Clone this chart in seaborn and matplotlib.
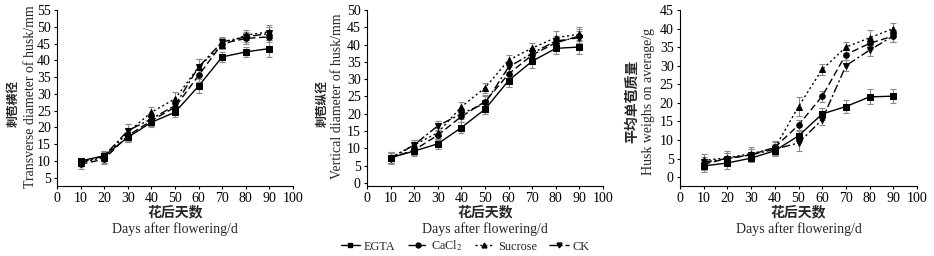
import numpy as np
import pandas as pd
import matplotlib
matplotlib.use("Agg")
import matplotlib.pyplot as plt
from matplotlib.lines import Line2D
import seaborn as sns

days = [10, 20, 30, 40, 50, 60, 70, 80, 90]
treatments = ["EGTA", "CaCl$_2$", "Sucrose", "CK"]

# Panel 1: transverse diameter of husk (mm)
trans_egta = [10.0, 11.5, 17.0, 21.5, 24.5, 32.3, 41.0, 42.5, 43.5]
trans_cacl2 = [9.0, 10.5, 17.5, 22.0, 26.0, 35.5, 45.0, 46.5, 47.0]
trans_sucrose = [9.5, 11.0, 18.5, 24.5, 28.5, 38.0, 44.5, 47.5, 48.5]
trans_ck = [9.5, 11.5, 19.0, 22.5, 26.5, 38.0, 45.5, 47.0, 48.0]
trans_err_egta = [1.0, 1.5, 1.5, 1.5, 1.5, 2.0, 1.5, 1.5, 2.5]
trans_err_cacl2 = [1.5, 1.5, 2.0, 1.5, 1.5, 2.0, 1.5, 1.5, 1.5]
trans_err_sucrose = [1.0, 1.5, 2.5, 1.5, 2.0, 2.5, 1.0, 1.5, 2.0]
trans_err_ck = [1.0, 1.5, 2.0, 1.5, 1.5, 2.5, 1.5, 1.5, 2.0]

# Panel 2: vertical diameter of husk (mm)
vert_egta = [7.3, 9.2, 11.3, 16.0, 21.3, 29.6, 35.2, 38.9, 39.3]
vert_cacl2 = [7.2, 9.5, 13.8, 19.2, 23.5, 31.5, 37.0, 40.5, 42.5]
vert_sucrose = [7.3, 11.0, 14.5, 22.0, 27.5, 35.5, 39.0, 42.0, 43.0]
vert_ck = [7.0, 11.0, 16.5, 20.0, 23.0, 33.5, 37.5, 41.0, 42.0]
vert_err_egta = [1.5, 1.5, 1.5, 1.5, 1.5, 2.0, 2.0, 1.5, 2.0]
vert_err_cacl2 = [1.5, 1.5, 1.5, 1.5, 2.0, 2.0, 1.5, 1.5, 2.0]
vert_err_sucrose = [1.5, 1.5, 1.5, 1.5, 1.5, 1.5, 1.5, 2.0, 2.0]
vert_err_ck = [1.5, 1.5, 1.5, 1.5, 2.0, 1.5, 1.5, 1.5, 2.0]

# Panel 3: average husk weight (g)
wt_egta = [3.0, 3.8, 5.1, 7.1, 11.1, 17.0, 19.0, 21.6, 21.8]
wt_cacl2 = [3.5, 5.0, 6.0, 8.0, 14.0, 21.8, 33.0, 36.0, 38.0]
wt_sucrose = [4.5, 5.2, 6.3, 7.8, 19.0, 29.0, 35.0, 37.5, 40.0]
wt_ck = [4.0, 5.0, 6.0, 7.5, 9.2, 15.5, 30.0, 34.2, 38.0]
wt_err_egta = [1.5, 1.5, 1.0, 1.5, 1.5, 1.5, 1.8, 2.0, 1.8]
wt_err_cacl2 = [1.5, 1.5, 1.5, 1.5, 1.5, 1.5, 1.5, 1.5, 1.5]
wt_err_sucrose = [1.8, 1.8, 1.8, 1.8, 2.5, 1.5, 1.5, 2.2, 1.5]
wt_err_ck = [1.5, 1.5, 1.5, 1.5, 2.2, 1.5, 1.5, 1.5, 1.5]

ylabels_cn = ["刺苞横径", "刺苞纵径", "平均单苞质量"]
ylabels_en = ["Transverse diameter of husk/mm", "Vertical diameter of husk/mm",
              "Husk weighs on average/g"]
xlabel_cn = "花后天数"
xlabel_en = "Days after flowering/d"

panels = [
    dict(series=[trans_egta, trans_cacl2, trans_sucrose, trans_ck],
         errs=[trans_err_egta, trans_err_cacl2, trans_err_sucrose, trans_err_ck],
         ylim=(2.5, 55), yticks=list(range(5, 56, 5)),
         cn_pos=(-0.186, 0.47), cn_size=8.5, en_x=-0.114, en_y=0.506),
    dict(series=[vert_egta, vert_cacl2, vert_sucrose, vert_ck],
         errs=[vert_err_egta, vert_err_cacl2, vert_err_sucrose, vert_err_ck],
         ylim=(-0.9, 50), yticks=list(range(0, 51, 5)),
         cn_pos=(-0.19, 0.466), cn_size=8.5, en_x=-0.123, en_y=0.51),
    dict(series=[wt_egta, wt_cacl2, wt_sucrose, wt_ck],
         errs=[wt_err_egta, wt_err_cacl2, wt_err_sucrose, wt_err_ck],
         ylim=(-2.4, 45), yticks=list(range(0, 46, 5)),
         cn_pos=(-0.20, 0.48), cn_size=10, en_x=-0.135, en_y=0.48),
]

sns.set_style("ticks")
plt.rcParams["font.family"] = ["Liberation Serif", "Noto Sans CJK SC"]
plt.rcParams["mathtext.fontset"] = "stix"

styles = [
    dict(marker="s", ls="-"),
    dict(marker="o", ls=(0, (5, 2.5))),
    dict(marker="^", ls=(0, (1.5, 2))),
    dict(marker="v", ls=(0, (6, 2, 1.5, 2))),
]

fig = plt.figure(figsize=(9.34, 2.56), dpi=100)
lefts = [57, 367, 680]
rights = [293, 603, 917]
W, H = 934, 256
top_px, bot_px = 10, 186

for i, p in enumerate(panels):
    ax = fig.add_axes([lefts[i] / W, 1 - bot_px / H,
                       (rights[i] - lefts[i]) / W, (bot_px - top_px) / H])
    for j, (vals, errs) in enumerate(zip(p["series"], p["errs"])):
        df = pd.DataFrame({"day": days, "val": vals})
        ax.errorbar(days, vals, yerr=errs, fmt="none", ecolor="#8a8a8a",
                    elinewidth=0.8, capsize=2, capthick=0.8, zorder=1)
        sns.lineplot(data=df, x="day", y="val", ax=ax, color="black",
                     linewidth=1.0, marker=styles[j]["marker"], markersize=4,
                     markeredgecolor="black", markerfacecolor="black",
                     linestyle=styles[j]["ls"], zorder=3, legend=False)
    ax.set_xlim(0, 100)
    ax.set_xticks(range(0, 101, 10))
    ax.set_ylim(*p["ylim"])
    ax.set_yticks(p["yticks"])
    ax.tick_params(direction="out", length=2.5, width=0.8, labelsize=10,
                   pad=2, colors="black")
    for s in ["left", "bottom"]:
        ax.spines[s].set_linewidth(0.8)
        ax.spines[s].set_color("black")
    sns.despine(ax=ax)
    ax.set_xlabel("")
    ax.set_ylabel("")
    ax.text(0.5, -0.148, xlabel_cn, transform=ax.transAxes, ha="center",
            va="center", fontsize=10, fontweight="bold",
            family=["Noto Sans CJK SC"])
    ax.text(0.5, -0.244, xlabel_en, transform=ax.transAxes, ha="center",
            va="center", fontsize=10)
    ax.text(p["en_x"], p["en_y"], ylabels_en[i], transform=ax.transAxes,
            rotation=90, ha="center", va="center", fontsize=10)
    ax.text(p["cn_pos"][0], p["cn_pos"][1], ylabels_cn[i],
            transform=ax.transAxes, rotation=90, ha="center", va="center",
            fontsize=p["cn_size"], fontweight="bold",
            family=["Noto Sans CJK SC"])

leg_handles = [Line2D([], [], color="black", lw=1.0, marker=s["marker"],
                      markersize=3.5, linestyle=s["ls"]) for s in styles]
fig.legend(leg_handles, treatments, loc="center", ncol=4,
           bbox_to_anchor=(465 / W, 1 - 246 / H), frameon=False,
           fontsize=8.8, handlelength=1.6, handletextpad=0.3,
           columnspacing=1.0, borderpad=0)

fig.savefig("out.png", dpi=100)
